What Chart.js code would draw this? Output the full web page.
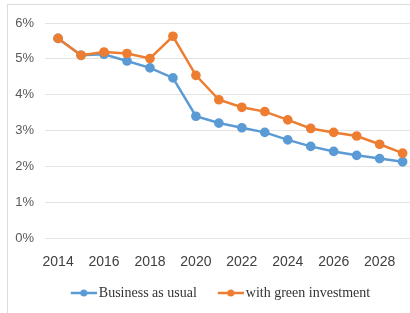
<!DOCTYPE html>
<html>
<head>
<meta charset="utf-8">
<script src="https://cdn.jsdelivr.net/npm/chart.js@4/dist/chart.umd.min.js"></script>
<style>
  html, body { margin: 0; padding: 0; background: #fff; overflow: hidden; }
  #wrap { position: relative; width: 410px; height: 313px; overflow: hidden; }
  #frame { position: absolute; left: 7px; top: 4px; width: 420px; height: 320px;
           border-left: 1px solid #dcdcdc; border-top: 1px solid #dcdcdc; }
  #box { position: absolute; left: 0; top: 0; width: 430px; height: 313px; }
</style>
</head>
<body>
<div id="wrap">
  <div id="frame"></div>
  <div id="box"><canvas id="myChart" width="430" height="313"></canvas></div>
</div>
<script>
const years = [2014, 2015, 2016, 2017, 2018, 2019, 2020, 2021, 2022, 2023, 2024, 2025, 2026, 2027, 2028, 2029];
const businessAsUsual = [5.57, 5.10, 5.13, 4.94, 4.75, 4.47, 3.40, 3.21, 3.08, 2.95, 2.74, 2.56, 2.42, 2.31, 2.22, 2.13];
const greenInvestment = [5.57, 5.10, 5.19, 5.15, 5.01, 5.63, 4.54, 3.86, 3.65, 3.53, 3.30, 3.06, 2.95, 2.85, 2.62, 2.37];
const xTicks = [2014, 2016, 2018, 2020, 2022, 2024, 2026, 2028];
const yTicks = [0, 1, 2, 3, 4, 5, 6];

// legend marker: short line with a dot, with some empty room on the left
function legendMarker(color) {
    const c = document.createElement('canvas');
    c.width = 42; c.height = 10;
    const g = c.getContext('2d');
    g.strokeStyle = color;
    g.lineWidth = 2.5;
    g.beginPath(); g.moveTo(16, 5); g.lineTo(42, 5); g.stroke();
    g.fillStyle = color;
    g.beginPath(); g.arc(29, 5, 3.5, 0, Math.PI * 2); g.fill();
    return c;
}

const blue = '#5B9BD5';
const orange = '#ED7D31';

const ctx = document.getElementById('myChart').getContext('2d');

new Chart(ctx, {
    type: 'line',
    data: {
        datasets: [{
            label: 'Business as usual',
            data: years.map((yr, i) => ({ x: yr, y: businessAsUsual[i] })),
            borderColor: blue,
            backgroundColor: blue,
            borderWidth: 2.5,
            pointRadius: 3.6,
            order: 2,
            legendImg: legendMarker(blue)
        }, {
            label: 'with green investment',
            data: years.map((yr, i) => ({ x: yr, y: greenInvestment[i] })),
            borderColor: orange,
            backgroundColor: orange,
            borderWidth: 2.5,
            pointRadius: 3.6,
            order: 1,
            legendImg: legendMarker(orange)
        }]
    },
    options: {
        responsive: false,
        animation: false,
        devicePixelRatio: 1,
        layout: { padding: { top: 23, left: 0, right: 0, bottom: 3 } },
        scales: {
            x: {
                type: 'linear',
                min: 2013.43,
                max: 2029.91,
                afterFit: scale => { scale.height -= 11; },
                grid: { display: false, drawTicks: false },
                border: { display: false },
                afterBuildTicks: scale => { scale.ticks = xTicks.map(v => ({ value: v })); },
                ticks: {
                    padding: 16,
                    color: '#404040',
                    font: { family: "'Liberation Sans Narrow', 'Liberation Sans', sans-serif", size: 14 },
                    callback: v => String(v)
                }
            },
            y: {
                min: 0,
                max: 6,
                afterFit: scale => { scale.width = 45; },
                afterBuildTicks: scale => { scale.ticks = yTicks.map(v => ({ value: v })); },
                grid: { color: '#e3e3e3', lineWidth: 1, drawTicks: false },
                border: { display: false },
                ticks: {
                    padding: 11,
                    color: '#595959',
                    font: { family: "'Liberation Sans Narrow', 'Liberation Sans', sans-serif", size: 13 },
                    callback: v => v + '%'
                }
            }
        },
        plugins: {
            legend: {
                position: 'bottom',
                labels: {
                    usePointStyle: true,
                    pointStyleWidth: 32,
                    padding: 10,
                    color: '#333',
                    font: { family: "'Liberation Serif', serif", size: 14 },
                    generateLabels: chart => chart.data.datasets.map((ds, i) => ({
                        text: ds.label,
                        pointStyle: ds.legendImg,
                        fillStyle: ds.borderColor,
                        strokeStyle: ds.borderColor,
                        lineWidth: 0,
                        datasetIndex: i,
                        fontColor: '#333'
                    }))
                }
            },
            tooltip: { enabled: false }
        }
    }
});
</script>
</body>
</html>
